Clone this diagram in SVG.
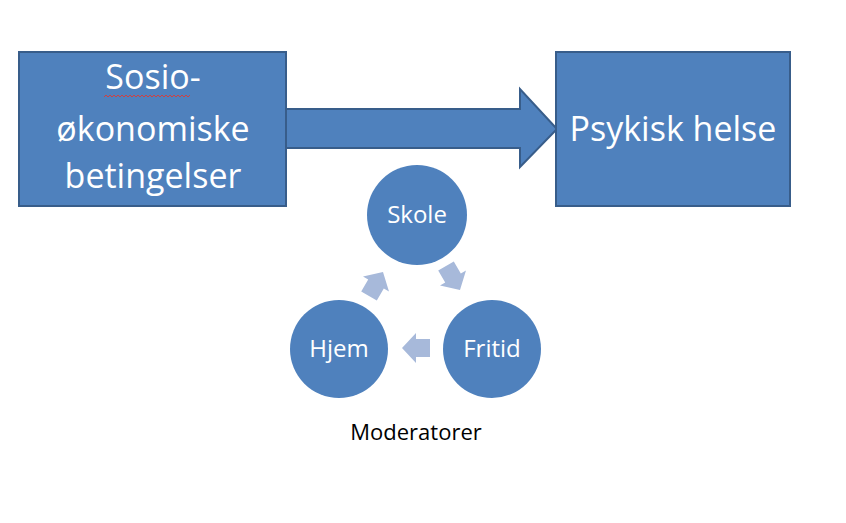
<svg xmlns="http://www.w3.org/2000/svg" width="846" height="523" viewBox="0 0 846 523">
<style>
.box{fill:#4F81BD;stroke:#385D8A;stroke-width:2}
.big{font-family:"Open Sans","Liberation Sans",sans-serif;font-size:34px;fill:#fff;text-anchor:middle}
.circ{fill:#4F81BD}
.sm{font-family:"Open Sans","Liberation Sans",sans-serif;font-size:24px;fill:#fff;text-anchor:middle}
.cyc{fill:#A7B9DA}
.lbl{font-family:"Open Sans","Liberation Sans",sans-serif;font-size:22px;fill:#000;text-anchor:middle}
</style>
<defs>
<polygon id="cyc" points="-14,-9 0,-9 0,-15 14,0 0,15 0,9 -14,9"/>
</defs>
<rect width="846" height="523" fill="#fff"/>
<g id="connectors">
<polygon class="box" points="283,109 520,109 520,89 557,129 520,167 520,148 283,148"/>
<use href="#cyc" class="cyc" transform="translate(453,278) rotate(60)"/>
<use href="#cyc" class="cyc" transform="translate(416,348) rotate(180)"/>
<use href="#cyc" class="cyc" transform="translate(376,284) rotate(-60)"/>
</g>
<g id="sosio">
<rect class="box" x="19" y="52" width="267" height="154"/>
<text class="big" x="153" y="89">Sosio-</text>
<text class="big" x="153" y="141">økonomiske</text>
<text class="big" x="153" y="188">betingelser</text>
<path d="M104,97 l2,-2 l2,2 l2,-2 l2,2 l2,-2 l2,2 l2,-2 l2,2 l2,-2 l2,2 l2,-2 l2,2 l2,-2 l2,2 l2,-2 l2,2 l2,-2 l2,2 l2,-2 l2,2 l2,-2 l2,2 l2,-2 l2,2 l2,-2 l2,2 l2,-2 l2,2 l2,-2 l2,2 l2,-2 l2,2 l2,-2 l2,2 l2,-2 l2,2 l2,-2 l2,2 l2,-2 l2,2 l2,-2 l2,2 l2,-2" fill="none" stroke="#D04040" stroke-width="1"/>
</g>
<g id="psykisk">
<rect class="box" x="556" y="52" width="234" height="154"/>
<text class="big" x="673" y="141">Psykisk helse</text>
</g>
<g id="skole">
<circle class="circ" cx="417" cy="215" r="50"/>
<text class="sm" x="417" y="223">Skole</text>
</g>
<g id="fritid">
<circle class="circ" cx="492" cy="349" r="49"/>
<text class="sm" x="492" y="357">Fritid</text>
</g>
<g id="hjem">
<circle class="circ" cx="339" cy="349" r="49"/>
<text class="sm" x="339" y="357">Hjem</text>
</g>
<text class="lbl" x="416" y="440">Moderatorer</text>
</svg>
